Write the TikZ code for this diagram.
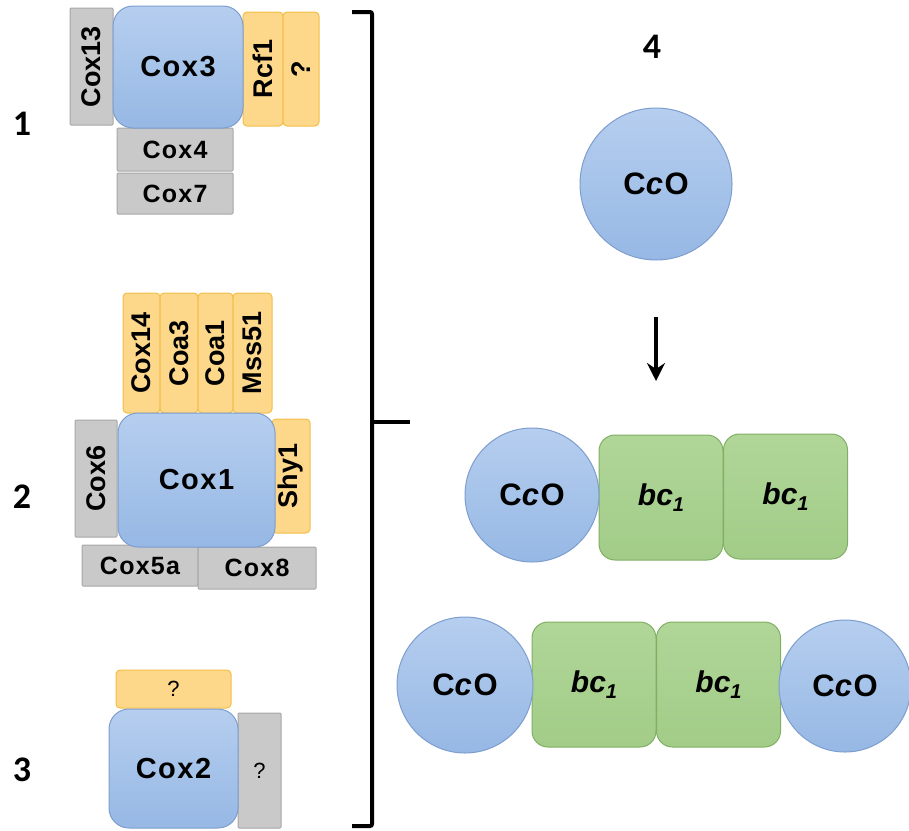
\documentclass[tikz,border=0pt]{standalone}
\usepackage{fontspec}
\setmainfont{Liberation Sans}
\newfontfamily\numfont{Carlito}
\newfontfamily\wide[LetterSpace=5]{Liberation Sans}
\usetikzlibrary{arrows.meta}

\definecolor{bluetop}{RGB}{182,206,239}
\definecolor{bluebot}{RGB}{150,184,228}
\definecolor{bluestroke}{RGB}{125,158,206}
\definecolor{orfill}{RGB}{253,216,138}
\definecolor{orstroke}{RGB}{243,190,72}
\definecolor{grfill}{RGB}{201,201,201}
\definecolor{grstroke}{RGB}{166,166,166}
\definecolor{gntop}{RGB}{176,214,152}
\definecolor{gnbot}{RGB}{162,204,136}
\definecolor{gnstroke}{RGB}{128,175,100}

\tikzset{
  part/.style={inner sep=0pt, outer sep=0pt, line width=1pt},
  core/.style={part, draw=bluestroke, top color=bluetop, bottom color=bluebot,
    rounded corners=20pt, font=\wide\bfseries\fontsize{29}{32}\selectfont},
  disc/.style={part, circle, draw=bluestroke, top color=bluetop, bottom color=bluebot,
    font=\wide\bfseries\fontsize{31}{34}\selectfont},
  bcbox/.style={part, draw=gnstroke, top color=gntop, bottom color=gnbot,
    rounded corners=16pt, minimum width=124pt, minimum height=125pt,
    font=\bfseries\itshape\fontsize{30}{34}\selectfont},
  chap/.style={part, draw=orstroke, fill=orfill, rounded corners=4pt},
  sub/.style={part, draw=grstroke, fill=grfill, rounded corners=1pt},
  vtxt/.style={rotate=90, font=\bfseries\fontsize{27}{30}\selectfont},
  htxt/.style={font=\wide\bfseries\fontsize{25}{28}\selectfont},
  qtxt/.style={font=\fontsize{22}{25}\selectfont},
  numlabel/.style={font=\numfont\bfseries\fontsize{36}{40}\selectfont, inner sep=0pt},
  bracketline/.style={line width=4pt, rounded corners=2pt},
  flow/.style={line width=3.5pt, -{Stealth[length=18pt, width=18pt, inset=6pt]}}
}

\newcommand{\bcone}{bc\raisebox{-6pt}{\fontsize{20}{22}\selectfont 1}}
\newcommand{\cco}{C\textit{c}O}

\begin{document}
\begin{tikzpicture}[x=1pt, y=-1pt]
  \useasboundingbox (0,0) rectangle (909,830);

  % ---------- stage 1: Cox3 module ----------
  \node[sub, vtxt, minimum width=117pt, minimum height=43pt] (cox13) at (91.5,66.5) {Cox13};
  \node[chap, vtxt, minimum width=114pt, minimum height=40pt] (rcf1) at (263,69) {Rcf1};
  \node[chap, vtxt, minimum width=114pt, minimum height=36pt] (q1) at (301,69) {?};
  \node[sub, htxt, minimum width=116pt, minimum height=43pt] (cox4) at (175,149.5) {Cox4};
  \node[sub, htxt, minimum width=116pt, minimum height=41pt] (cox7) at (175,193.5) {Cox7};
  \node[core, minimum width=130pt, minimum height=122pt] (cox3) at (178,67) {Cox3};
  \node[numlabel] (n1) at (22,124) {1};

  % ---------- stage 2: Cox1 module ----------
  \node[chap, vtxt, minimum width=120pt, minimum height=37pt] (cox14) at (141.5,353) {Cox14};
  \node[chap, vtxt, minimum width=120pt, minimum height=38pt] (coa3) at (179,353) {Coa3};
  \node[chap, vtxt, minimum width=120pt, minimum height=35pt] (coa1) at (215.5,353) {Coa1};
  \node[chap, vtxt, minimum width=120pt, minimum height=39pt] (mss51) at (252.5,353) {Mss51};
  \node[sub, vtxt, minimum width=117pt, minimum height=42pt] (cox6) at (96,478.5) {Cox6};
  \node[chap, vtxt, minimum width=114pt, minimum height=38pt] (shy1) at (291,476) {Shy1};
  \node[sub, htxt, minimum width=116pt, minimum height=41pt] (cox5a) at (140,565.5) {Cox5a};
  \node[sub, htxt, minimum width=118pt, minimum height=42pt] (cox8) at (257,568) {Cox8};
  \node[core, minimum width=157pt, minimum height=134pt] (cox1) at (196.5,480) {Cox1};
  \node[numlabel] (n2) at (22,497) {2};

  % ---------- stage 3: Cox2 module ----------
  \node[chap, qtxt, minimum width=115pt, minimum height=38pt] (q2) at (173.5,689) {?};
  \node[sub, qtxt, minimum width=43pt, minimum height=115pt] (q3) at (259.5,770.5) {?};
  \node[core, minimum width=129pt, minimum height=119pt] (cox2) at (173.5,768.5) {Cox2};
  \node[numlabel] (n3) at (22,770) {3};

  % ---------- bracket joining the three modules ----------
  \coordinate (btopend) at (352,12);
  \coordinate (btop) at (372,12);
  \coordinate (bbot) at (372,826);
  \coordinate (bbotend) at (352,826);
  \coordinate (bmid) at (372,422);
  \coordinate (btip) at (410,422);
  \draw[bracketline] (btopend) -- (btop) -- (bbot) -- (bbotend);
  \draw[bracketline] (bmid) -- (btip);

  % ---------- stage 4: holoenzyme and supercomplexes ----------
  \node[numlabel] (n4) at (652,47) {4};
  \node[disc, minimum size=152pt] (cco) at (656,184) {\cco};
  \coordinate (arrstart) at (656,317);
  \coordinate (arrend) at (656,381);
  \draw[flow] (arrstart) -- (arrend);

  \node[bcbox] (bcA) at (661,497.5) {\bcone};
  \node[bcbox] (bcB) at (785.5,496.5) {\bcone};
  \node[disc, minimum size=134pt] (ccoA) at (532,495) {\cco};

  \node[bcbox] (bcC) at (594,684.5) {\bcone};
  \node[bcbox] (bcD) at (718.5,684.5) {\bcone};
  \node[disc, minimum size=136pt] (ccoB) at (465,685) {\cco};
  \node[disc, minimum size=132pt] (ccoC) at (845,686) {\cco};
\end{tikzpicture}
\end{document}
